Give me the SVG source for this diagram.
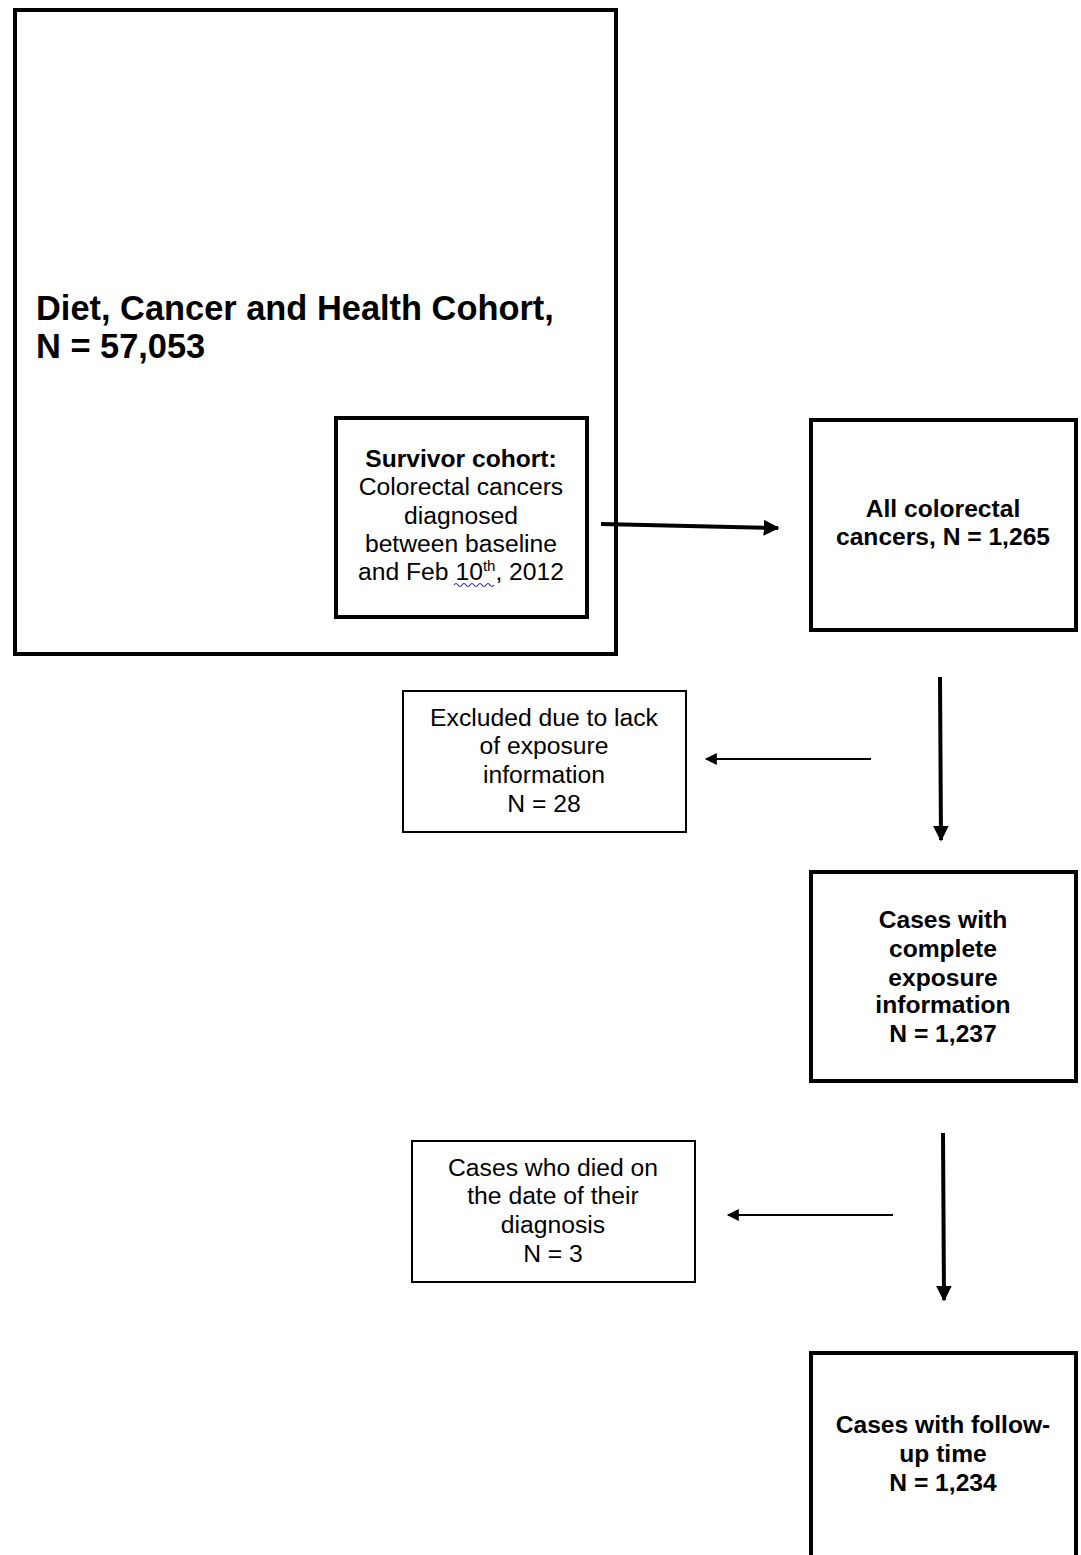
<svg xmlns="http://www.w3.org/2000/svg" width="1081" height="1555" viewBox="0 0 1081 1555">
<style>
.thick{fill:#fff;stroke:#000;stroke-width:4}
.thin{fill:#fff;stroke:#000;stroke-width:2}
text{font-family:"Liberation Sans",Arial,sans-serif;fill:#000;text-anchor:middle;font-size:24.7px}
.b{font-weight:bold;font-size:24.6px}
.big{font-size:34.4px;font-weight:bold;text-anchor:start}
.c{stroke:#000;fill:none}
</style>
<defs>
<marker id="ah" viewBox="0 0 10 10" refX="9" refY="5" markerWidth="4" markerHeight="4" markerUnits="strokeWidth" orient="auto">
<path d="M0,0 L10,5 L0,10 z" fill="#000"/>
</marker>
<marker id="ah2" viewBox="0 0 10 10" refX="9" refY="5" markerWidth="8" markerHeight="6" markerUnits="strokeWidth" orient="auto">
<path d="M0,0 L10,5 L0,10 z" fill="#000"/>
</marker>
</defs>
<rect width="1081" height="1555" fill="#fff"/>
<g id="cohort">
<rect class="thick" x="15" y="10" width="601" height="644"/>
<text class="big" x="36" y="320">Diet, Cancer and Health Cohort,</text>
<text class="big" x="36" y="358">N = 57,053</text>
</g>
<g id="survivor">
<rect class="thick" x="336" y="418" width="251" height="199"/>
<text class="b" x="461" y="467">Survivor cohort:</text>
<text x="461" y="495">Colorectal cancers</text>
<text x="461" y="524">diagnosed</text>
<text x="461" y="552">between baseline</text>
<text x="461" y="580">and Feb 10<tspan font-size="15" dy="-9">th</tspan><tspan dy="9">, 2012</tspan></text>
<path d="M454,585 q2,-3 4,0 t4,0 t4,0 t4,0 t4,0 t4,0 t4,0 t4,0 t4,0 t4,0" fill="none" stroke="#2a2ae0" stroke-width="1.2"/>
</g>
<g id="all">
<rect class="thick" x="811" y="420" width="265" height="210"/>
<text class="b" x="943" y="517">All colorectal</text>
<text class="b" x="943" y="545">cancers, N = 1,265</text>
</g>
<g id="excluded">
<rect class="thin" x="403" y="691" width="283" height="141"/>
<text x="544" y="726">Excluded due to lack</text>
<text x="544" y="754">of exposure</text>
<text x="544" y="783">information</text>
<text x="544" y="812">N = 28</text>
</g>
<g id="complete">
<rect class="thick" x="811" y="872" width="265" height="209"/>
<text class="b" x="943" y="928">Cases with</text>
<text class="b" x="943" y="957">complete</text>
<text class="b" x="943" y="986">exposure</text>
<text class="b" x="943" y="1013">information</text>
<text class="b" x="943" y="1042">N = 1,237</text>
</g>
<g id="died">
<rect class="thin" x="412" y="1141" width="283" height="141"/>
<text x="553" y="1176">Cases who died on</text>
<text x="553" y="1204">the date of their</text>
<text x="553" y="1233">diagnosis</text>
<text x="553" y="1262">N = 3</text>
</g>
<g id="followup">
<rect class="thick" x="811" y="1353" width="265" height="212"/>
<text class="b" x="943" y="1433">Cases with follow-</text>
<text class="b" x="943" y="1462">up time</text>
<text class="b" x="943" y="1491">N = 1,234</text>
</g>
<g id="connectors">
<path class="c" d="M601,524 L778,528" stroke-width="4" marker-end="url(#ah)"/>
<path class="c" d="M940,677 L941,840" stroke-width="4" marker-end="url(#ah)"/>
<path class="c" d="M871,759 L706,759" stroke-width="2" marker-end="url(#ah2)"/>
<path class="c" d="M943,1133 L944,1300" stroke-width="4" marker-end="url(#ah)"/>
<path class="c" d="M893,1215 L728,1215" stroke-width="2" marker-end="url(#ah2)"/>
</g>
</svg>
